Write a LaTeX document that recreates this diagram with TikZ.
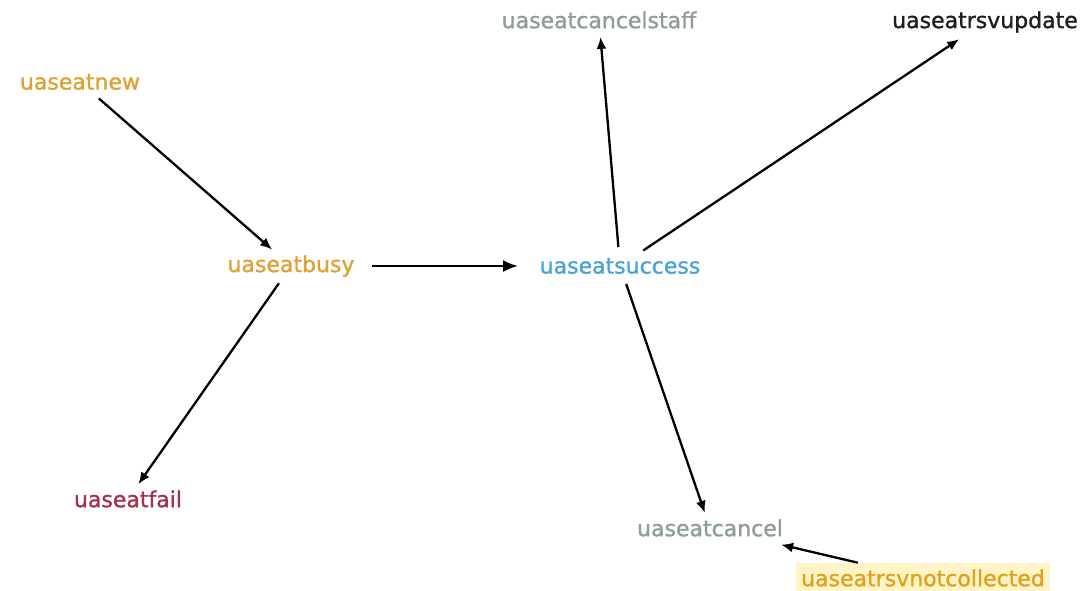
\documentclass[tikz,border=0pt]{standalone}
\usepackage{fontspec}
\setmainfont{DejaVu Sans}
\newfontfamily\lblfont{DejaVu Sans}[FakeBold=1.2]
\usetikzlibrary{arrows.meta}
\definecolor{cgold}{HTML}{DDA236}
\definecolor{cblue}{HTML}{4BA3D6}
\definecolor{cgray}{HTML}{8E9C9B}
\definecolor{cdark}{HTML}{1E1E1E}
\definecolor{cred}{HTML}{A3324F}
\definecolor{cgoldb}{HTML}{E0A21E}
\definecolor{chl}{HTML}{FFF4C6}
\tikzset{
  lbl/.style={font=\lblfont\fontsize{22}{24}\selectfont, inner sep=0pt, anchor=center},
  conn/.style={line width=2.3pt, draw=black, -{Latex[length=12pt,width=10pt]}},
}
\begin{document}
\begin{tikzpicture}[x=1pt,y=-1pt]
\useasboundingbox[fill=white] (0,0) rectangle (1081,590);
\node[lbl, text=cgold] (new) at (80,82) {uaseatnew};
\node[lbl, text=cgold] (busy) at (291,266) {uaseatbusy};
\node[lbl, text=cblue] (succ) at (620,266) {uaseatsuccess};
\node[lbl, text=cgray] (cstaff) at (599,20) {uaseatcancelstaff};
\node[lbl, text=cdark] (upd) at (985,22) {uaseatrsvupdate};
\node[lbl, text=cred] (fail) at (128,499) {uaseatfail};
\node[lbl, text=cgray] (canc) at (710,528) {uaseatcancel};
\node[lbl, text=cgoldb, fill=chl, inner xsep=5pt, inner ysep=6pt] (notc) at (923,578) {uaseatrsvnotcollected};

\draw[conn, shorten <=25pt, shorten >=25pt] (new.center) -- (busy.center);
\draw[conn, -{Latex[length=15pt,width=12pt]}, shorten <=81pt, shorten >=102pt] (busy.center) -- (succ.center);
\draw[conn, shorten <=21pt, shorten >=18pt] (busy.center) -- (fail.center);
\draw[conn, shorten <=19pt, shorten >=17pt] (succ.center) -- (cstaff.center);
\draw[conn, shorten <=28pt, shorten >=31pt] (succ.center) -- (upd.center);
\draw[conn, shorten <=19pt, shorten >=16pt] (succ.center) -- (canc.center);
\draw[conn, shorten <=67pt, shorten >=73pt] (notc.center) -- (canc.center);
\end{tikzpicture}
\end{document}
